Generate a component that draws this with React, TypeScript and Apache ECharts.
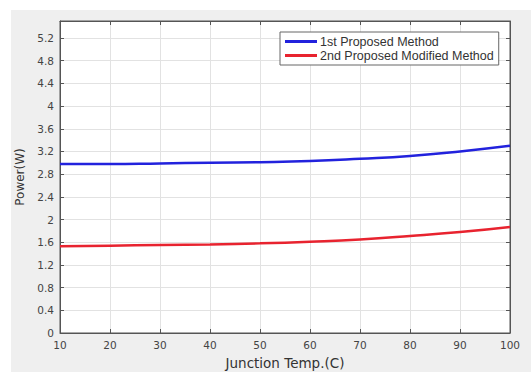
import React, { useEffect, useRef } from "react";
import * as echarts from "echarts";

const temps = [10, 20, 30, 40, 50, 60, 70, 80, 90, 100];
const firstMethod = [2.98, 2.98, 2.99, 3.0, 3.01, 3.03, 3.07, 3.12, 3.2, 3.3];
const secondMethod = [1.53, 1.54, 1.55, 1.56, 1.58, 1.61, 1.65, 1.71, 1.78, 1.87];
const seriesNames = ["1st Proposed Method", "2nd Proposed Modified Method"];

export default function App() {
  const ref = useRef<HTMLDivElement>(null);
  useEffect(() => {
    if (!ref.current) return;
    const chart = echarts.init(ref.current, undefined, { renderer: "svg" });
    const font = "Liberation Sans, Arial, sans-serif";
    const wide = "DejaVu Sans, sans-serif";
    const axisCommon = {
      type: "value" as const,
      axisLine: { show: true, onZero: false, lineStyle: { color: "#555", width: 1 } },
      axisTick: { show: true, inside: true, length: 4, lineStyle: { color: "#555" } },
      splitLine: { show: true, lineStyle: { color: "#e2e2e2", width: 1 } },
    };
    chart.setOption({
      animation: false,
      backgroundColor: "#ffffff",
      graphic: [
        {
          type: "rect",
          z: -100,
          silent: true,
          shape: { x: 11, y: 10, width: 520, height: 362 },
          style: { fill: "#efefef" },
        },
      ],
      grid: {
        left: 60,
        right: 21,
        top: 21,
        bottom: 39,
        show: true,
        outerBoundsMode: "none",
        containLabel: false,
        backgroundColor: "#ffffff",
        borderColor: "#555",
        borderWidth: 1,
      },
      legend: {
        orient: "vertical",
        left: 280,
        top: 32,
        itemWidth: 32,
        itemHeight: 3,
        itemGap: 1,
        padding: [3, 5, 3, 5],
        backgroundColor: "#ffffff",
        borderColor: "#666",
        borderWidth: 1,
        borderRadius: 0,
        icon: "rect",
        textStyle: { fontSize: 12.5, fontFamily: font, color: "#333", padding: [0, 0, 0, -2] },
        data: seriesNames,
      },
      xAxis: [
        {
          ...axisCommon,
          min: 10,
          max: 100,
          interval: 10,
          name: "Junction Temp.(C)",
          nameLocation: "middle",
          nameGap: 23,
          nameTextStyle: { fontSize: 13.5, fontFamily: wide, color: "#333" },
          axisLabel: { fontSize: 10.5, fontFamily: wide, color: "#444", margin: 6 },
        },
        {
          ...axisCommon,
          position: "top",
          min: 10,
          max: 100,
          interval: 10,
          axisLabel: { show: false },
          splitLine: { show: false },
        },
      ],
      yAxis: [
        {
          ...axisCommon,
          min: 0,
          max: 5.5,
          interval: 0.4,
          name: "Power(W)",
          nameLocation: "middle",
          nameGap: 33,
          nameTextStyle: { fontSize: 12, fontFamily: wide, color: "#333" },
          axisLabel: {
            fontSize: 10.5,
            fontFamily: wide,
            color: "#444",
            margin: 6,
            showMaxLabel: false,
            formatter: (v: number) => String(Math.round(v * 10) / 10),
          },
        },
        {
          ...axisCommon,
          position: "right",
          min: 0,
          max: 5.5,
          interval: 0.4,
          axisLabel: { show: false },
          splitLine: { show: false },
        },
      ],
      series: [
        {
          name: seriesNames[0],
          type: "line",
          smooth: true,
          showSymbol: false,
          data: temps.map((t, i) => [t, firstMethod[i]]),
          lineStyle: { color: "#2222dd", width: 2.5 },
          itemStyle: { color: "#2222dd" },
        },
        {
          name: seriesNames[1],
          type: "line",
          smooth: true,
          showSymbol: false,
          data: temps.map((t, i) => [t, secondMethod[i]]),
          lineStyle: { color: "#e8232f", width: 2.5 },
          itemStyle: { color: "#e8232f" },
        },
      ],
    });
    return () => chart.dispose();
  }, []);
  return (
    <div
      ref={ref}
      style={{ position: "fixed", left: 0, top: 0, width: 531, height: 372 }}
    />
  );
}
